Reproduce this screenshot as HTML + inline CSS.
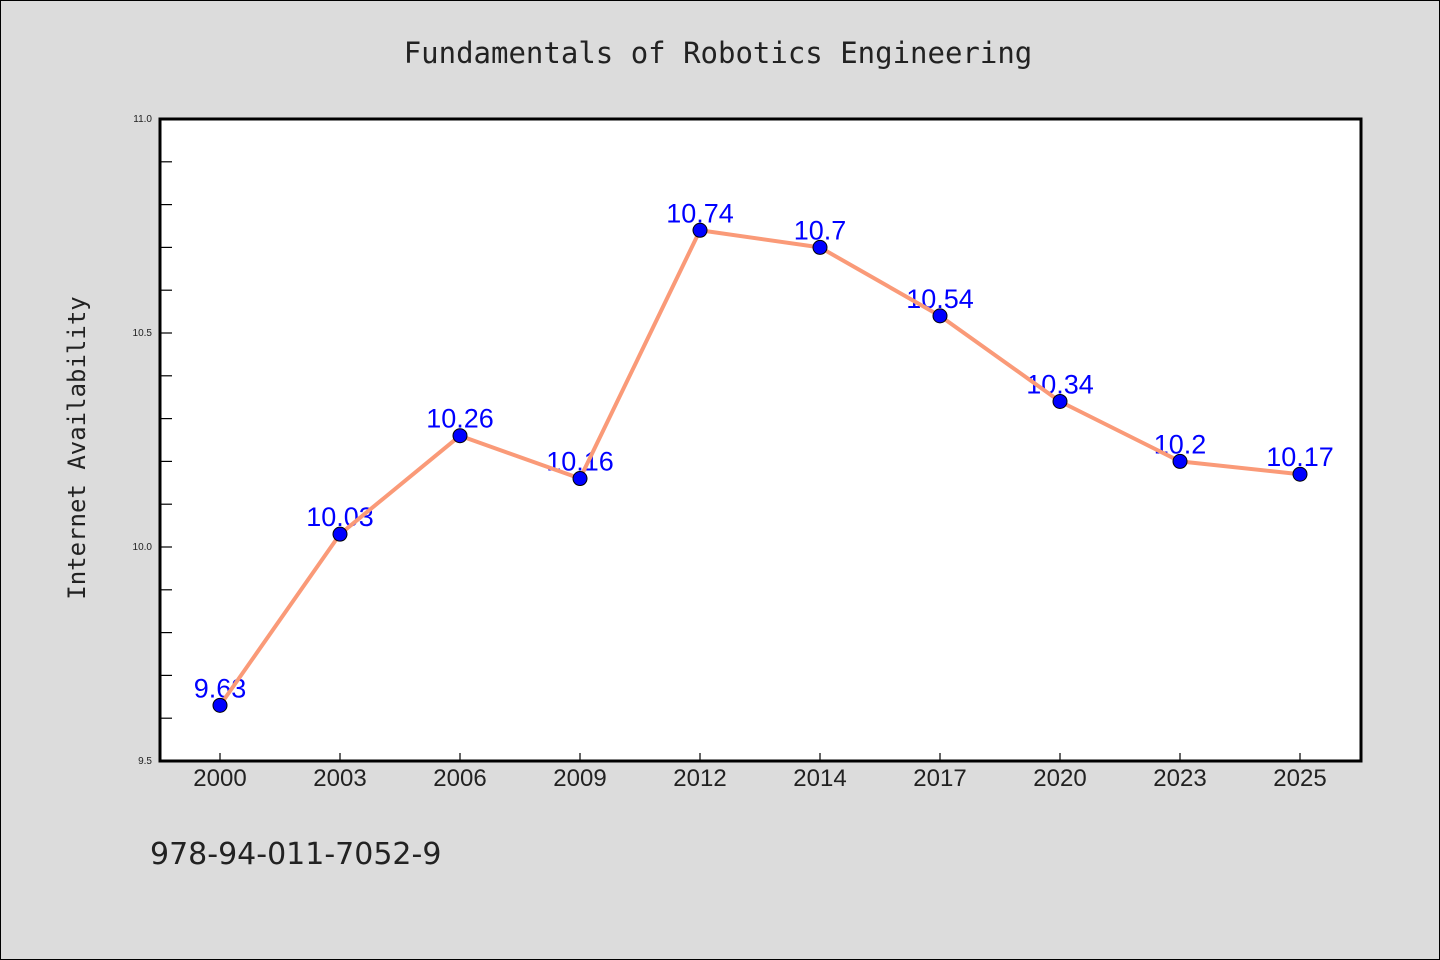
<!DOCTYPE html>
<html><head><meta charset="utf-8"><style>
body{margin:0;background:#dcdcdc;}
svg{display:block;font-family:"Liberation Sans","DejaVu Sans",sans-serif;}
</style></head><body>
<svg id="c" width="1440" height="960">
<rect x="0.5" y="0.5" width="1439" height="959" fill="#dcdcdc" stroke="#000"/>
<text x="718" y="63" font-size="29" text-anchor="middle" fill="#222" font-family="DejaVu Sans Mono, monospace">Fundamentals of Robotics Engineering</text>
<rect x="160" y="119" width="1201" height="642" fill="#fff"/>
<g id="g"></g>
<rect x="160" y="119" width="1201" height="642" fill="none" stroke="#000" stroke-width="3"/>
<text transform="translate(85,448) rotate(-90)" font-size="24" text-anchor="middle" fill="#222" font-family="DejaVu Sans Mono, monospace">Internet Availability</text>
<text x="150" y="864" font-size="30" fill="#222" font-family="DejaVu Sans, sans-serif">978-94-011-7052-9</text>
</svg>
<script>
const categories=["2000","2003","2006","2009","2012","2014","2017","2020","2023","2025"];
const values=[9.63,10.03,10.26,10.16,10.74,10.7,10.54,10.34,10.2,10.17];
const valueLabels=["9.63","10.03","10.26","10.16","10.74","10.7","10.54","10.34","10.2","10.17"];
const yTicks=[9.5,10.0,10.5,11.0];
const yTickLabels=["9.5","10.0","10.5","11.0"];
const yMin=9.5,yMax=11.0;
const NS="http://www.w3.org/2000/svg";
const g=document.getElementById('g');
function x(i){return 220+i*120;}
function y(v){return 761-(v-yMin)/(yMax-yMin)*642;}
function mk(t,a){const e=document.createElementNS(NS,t);for(const k in a)e.setAttribute(k,a[k]);g.appendChild(e);return e;}
for(let v=yMin+0.1;v<yMax-0.05;v+=0.1){
 const l=mk('line',{x1:160,x2:172,y1:y(v),y2:y(v),stroke:'#000','stroke-width':1.2});
 
 
}
yTicks.forEach((v,i)=>{
 const t=mk('text',{x:152,y:y(v)+3,'font-size':10,'text-anchor':'end',fill:'#222'});
 t.textContent=yTickLabels[i];
 
 
});
categories.forEach((c,i)=>{
 const l=mk('line',{x1:x(i),x2:x(i),y1:761,y2:753,stroke:'#000','stroke-width':1.2});
 
 
 const t=mk('text',{x:x(i),y:786,'font-size':24,'text-anchor':'middle',fill:'#222'});
 t.textContent=c;
 
 
});
values.forEach((v,i)=>{
 const t=mk('text',{x:x(i),y:y(v)-8,'font-size':27,'text-anchor':'middle',fill:'#0000ff'});
 t.textContent=valueLabels[i];
 
 
});
const pl=mk('polyline',{points:values.map((v,i)=>x(i)+','+y(v)).join(' '),fill:'none',stroke:'#fa9a78','stroke-width':4,'stroke-linejoin':'round'});


values.forEach((v,i)=>{
 const p=mk('circle',{cx:x(i),cy:y(v),r:7,fill:'#0000ff',stroke:'#000','stroke-width':1});
 
 
});
</script>
</body></html>
